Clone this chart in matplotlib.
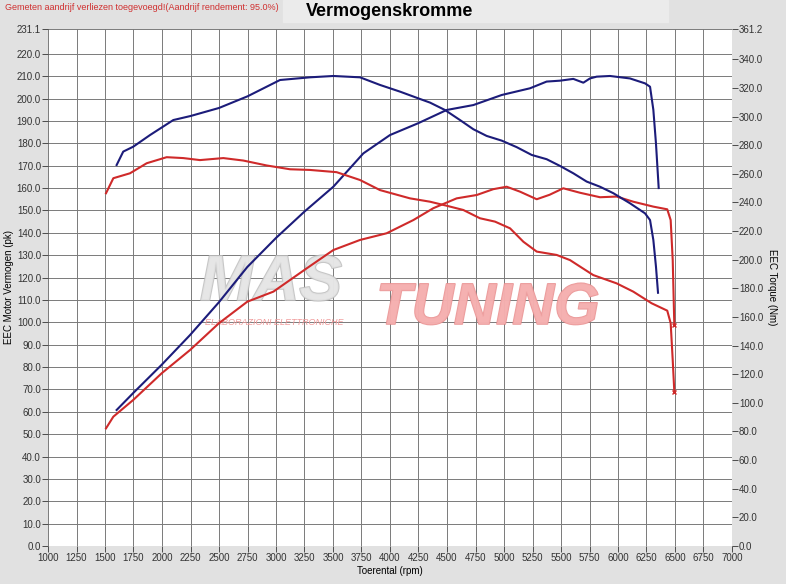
import numpy as np
import matplotlib
matplotlib.use("Agg")
import matplotlib.pyplot as plt
from matplotlib.patches import Rectangle
import matplotlib.patheffects as pe

plt.rcParams['font.family'] = ['Liberation Sans', 'DejaVu Sans']

# blue run - power (pk)
blue_pwr_rpm = [1602, 1748, 1997, 2246, 2500, 2748, 3000, 3250, 3503, 3766, 4000, 4248, 4497,
                4731, 4980, 5228, 5374, 5491, 5608, 5696, 5754, 5813, 5930, 6105, 6237, 6281,
                6310, 6333, 6357]
blue_pwr = [60.8, 68.4, 81.0, 94.3, 109.0, 124.7, 137.7, 149.5, 160.6, 175.5, 183.7, 189.0, 194.9,
            197.1, 201.6, 204.6, 207.6, 208.0, 208.8, 207.1, 209.0, 209.8, 210.1, 209.0, 206.8, 205.3,
            195.0, 180.0, 160.0]

# blue run - torque (read in pk scale, converted to Nm below)
blue_trq_rpm = [1602, 1660, 1748, 1895, 2099, 2250, 2500, 2750, 3035, 3298, 3503, 3737, 3912,
                4088, 4248, 4351, 4482, 4614, 4731, 4848, 4980, 5111, 5243, 5374, 5491, 5608,
                5725, 5842, 5959, 6105, 6237, 6281, 6310, 6333, 6351]
blue_trq_pk = [170.3, 176.3, 178.5, 183.7, 190.4, 192.2, 195.8, 201.0, 208.3, 209.5, 210.1, 209.5, 206.1,
               203.1, 200.1, 198.2, 194.9, 190.4, 186.3, 183.3, 181.2, 178.3, 174.8, 172.9, 169.9, 166.6,
               162.9, 160.6, 157.7, 153.2, 148.7, 145.7, 136.8, 124.9, 113.2]

# red run - power (pk)
red_pwr_rpm = [1509, 1573, 1748, 1997, 2246, 2500, 2748, 2977, 3123, 3269, 3503, 3737, 3971,
               4205, 4380, 4585, 4761, 4906, 5023, 5140, 5287, 5400, 5520, 5667, 5842, 5988,
               6134, 6310, 6432, 6462, 6480, 6494]
red_pwr = [52.6, 57.8, 65.3, 77.2, 87.6, 99.6, 109.2, 113.7, 118.9, 124.1, 132.3, 136.8, 139.8,
           145.7, 151.0, 155.4, 156.9, 159.5, 160.6, 158.4, 155.0, 157.0, 159.9, 157.9, 155.9, 156.2,
           153.9, 151.7, 150.5, 145.7, 127.8, 98.8]

# red run - torque (pk scale)
red_trq_rpm = [1509, 1573, 1719, 1866, 2041, 2187, 2333, 2538, 2713, 2918, 3123, 3298, 3532,
               3737, 3912, 4175, 4351, 4497, 4643, 4789, 4921, 5053, 5170, 5287, 5462, 5579,
               5667, 5783, 5988, 6134, 6295, 6432, 6462, 6480, 6494]
red_trq_pk = [157.7, 164.4, 166.6, 171.1, 173.8, 173.4, 172.5, 173.4, 172.3, 170.1, 168.4, 168.1, 167.1,
              163.6, 159.1, 155.4, 153.9, 152.1, 150.2, 146.5, 145.0, 142.0, 136.0, 131.6, 130.1, 127.8,
              124.9, 121.1, 117.4, 113.7, 108.5, 105.2, 99.6, 83.1, 69.0]

pk_max = 231.1
nm_max = 361.2
blue_trq = [v * nm_max / pk_max for v in blue_trq_pk]
red_trq = [v * nm_max / pk_max for v in red_trq_pk]

left_ticks = list(np.arange(0, 230, 10)) + [pk_max]
right_ticks = list(np.arange(0, 360, 20)) + [nm_max]
x_ticks = list(range(1000, 7001, 250))

bg = '#e1e1e1'
blue = '#1c1c7a'
red = '#cf2a2a'

fig = plt.figure(figsize=(7.86, 5.84), dpi=100, facecolor=bg)
fig.patches.append(Rectangle((283 / 786, 1 - 22 / 584), 385 / 786, 22 / 584,
                             transform=fig.transFigure, color='#ebebeb', zorder=0))
ax = fig.add_axes([48 / 786, 38 / 584, 684 / 786, 517 / 584])
ax2 = ax.twinx()

ax.set_xlim(1000, 7000)
ax.set_ylim(0, pk_max)
ax2.set_ylim(0, nm_max)
ax.set_xticks(x_ticks)
ax.set_xticklabels([str(t) for t in x_ticks])
ax.set_yticks(left_ticks)
ax.set_yticklabels(['%.1f' % t for t in left_ticks])
ax2.set_yticks(right_ticks)
ax2.set_yticklabels(['%.1f' % t for t in right_ticks])

ax.grid(True, color='#7a7a7a', linewidth=0.7)
ax.set_axisbelow(True)
for a in (ax, ax2):
    a.tick_params(labelsize=7, colors='#333333', length=4, width=0.6, pad=1)
    for s in a.spines.values():
        s.set_visible(False)

# watermark, behind the curves
ax.text(200 / 786, 1 - 300 / 584, 'MAS', fontsize=46, fontweight='bold', style='italic',
        color='#e6e6e6', alpha=0.85, zorder=2, va='baseline', transform=fig.transFigure,
        path_effects=[pe.withStroke(linewidth=1.5, foreground='#bdbdbd')])
ax.text(376 / 786, 1 - 324 / 584, 'TUNING', fontsize=42, fontweight='bold', style='italic',
        color='#f5b0b0', alpha=0.85, zorder=2, transform=fig.transFigure,
        path_effects=[pe.withStroke(linewidth=1.2, foreground='#e88c8c')])
ax.text(205 / 786, 1 - 325 / 584, 'ELABORAZIONI ELETTRONICHE', fontsize=6.5, style='italic',
        color='#f09a9a', zorder=2, transform=fig.transFigure)

ax.plot(blue_pwr_rpm, blue_pwr, color=blue, lw=1.5, zorder=3)
ax2.plot(blue_trq_rpm, blue_trq, color=blue, lw=1.5, zorder=3)
ax.plot(red_pwr_rpm, red_pwr, color=red, lw=1.5, zorder=3)
ax2.plot(red_trq_rpm, red_trq, color=red, lw=1.5, zorder=3)
ax2.plot([red_pwr_rpm[-1]], [red_pwr[-1] * nm_max / pk_max], 'x', color=red, ms=3)
ax2.plot([red_trq_rpm[-1]], [red_trq[-1]], 'x', color=red, ms=3)

ax.set_xlabel('Toerental (rpm)', fontsize=7, labelpad=2)
ax.set_ylabel('EEC Motor Vermogen (pk)', fontsize=7, labelpad=2)
ax2.set_ylabel('EEC Torque (Nm)', fontsize=7, rotation=270, labelpad=10)

fig.text(5 / 786, 1 - 7 / 584, 'Gemeten aandrijf verliezen toegevoegd!(Aandrijf rendement: 95.0%)',
         fontsize=6.5, color='#d03030', va='center')
fig.text(390 / 786, 1 - 11 / 584, 'Vermogenskromme', fontsize=13, fontweight='bold',
         ha='center', va='center')

fig.savefig('out.png', dpi=100, facecolor=bg)
